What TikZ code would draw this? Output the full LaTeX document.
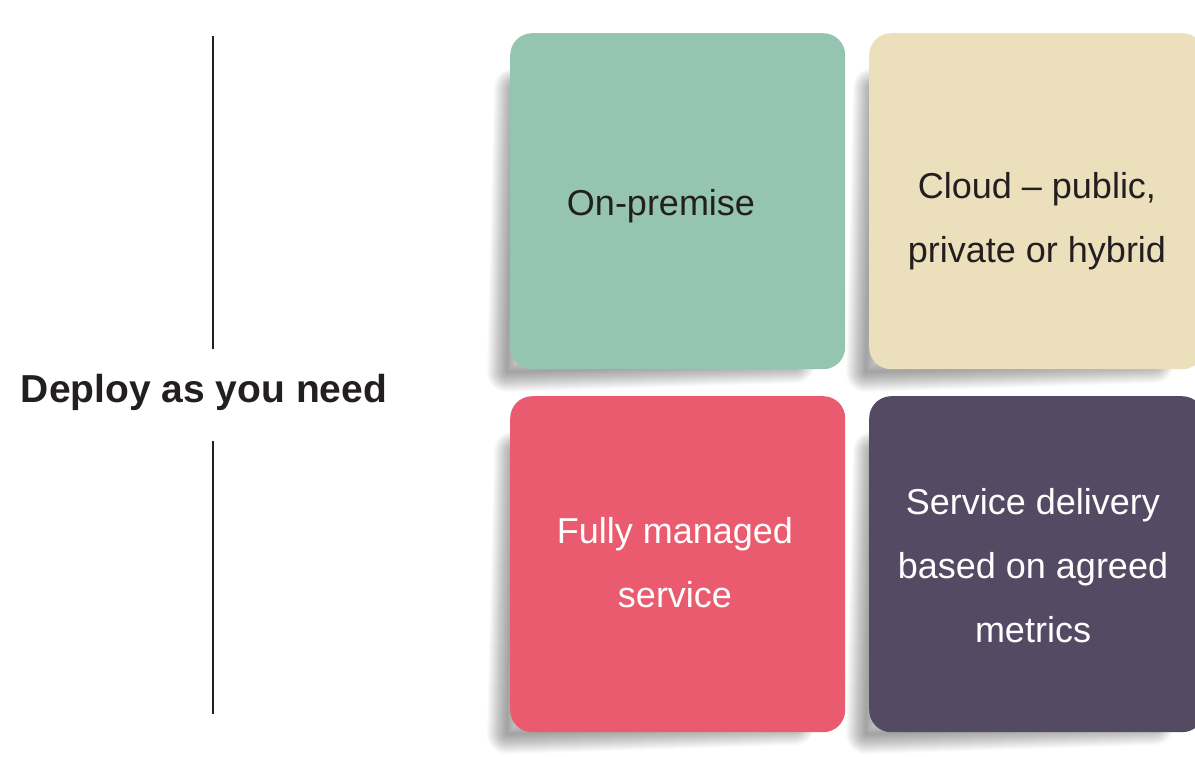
\documentclass[tikz,border=0pt]{standalone}
\usepackage{fontspec}
\setmainfont{Liberation Sans}
\definecolor{cgreen}{HTML}{95C4B1}
\definecolor{ctan}{HTML}{ECDFBC}
\definecolor{cred}{HTML}{EA5B70}
\definecolor{cpurple}{HTML}{544A64}
\definecolor{cdark}{HTML}{231F20}
\tikzset{
  tile/.style={rounded corners=22pt, draw=none, minimum width=335pt, minimum height=336pt, inner sep=0pt, anchor=north west},
  lbl/.style={align=center, inner sep=0pt, font=\fontsize{36pt}{64pt}\selectfont},
  rule/.style={line width=2.6pt, draw=cdark},
}
\newcommand{\softshadow}[4]{%
  % #1=L #2=T #3=R #4=B
  \foreach \w in {40,38,...,2}{%
    \draw[line width=\w pt, line join=round, draw=black, draw opacity=0.021]
      (#1+4,#2+55) -- (#1-3,#4+3) -- (#3-50,#4-6) -- (#3-50,#2+55) -- cycle;
  }%
}
\begin{document}
\begin{tikzpicture}[x=1pt,y=-1pt]
\useasboundingbox (0,0) rectangle (1195,757);
\clip (0,0) rectangle (1195,757);
\fill[white] (0,0) rectangle (1195,757);
% shadows
\softshadow{510}{33}{845}{369}
\softshadow{869}{33}{1204}{369}
\softshadow{510}{396}{845}{731}
\softshadow{869}{396}{1204}{731}
% tiles
\node[tile, fill=cgreen] (t1) at (510,33) {};
\node[tile, fill=ctan] (t2) at (869,33) {};
\node[tile, fill=cred] (t3) at (510,396) {};
\node[tile, fill=cpurple] (t4) at (869,396) {};
% labels
\node[lbl, text=cdark] (l1) at (661,206) {On-premise};
\node[lbl, text=cdark] (l2) at (1037,221) {Cloud -- public,\\private or hybrid};
\node[lbl, text=white] (l3) at (675,563) {Fully managed\\service};
\node[lbl, text=white] (l4) at (1033,566) {Service delivery\\based on agreed\\metrics};
% title and rules
\node[font=\bfseries\fontsize{39pt}{44pt}\selectfont, text=cdark, inner sep=0pt] (title) at (204,392) {Deploy as you need};
\coordinate (r1a) at (213,36);
\coordinate (r1b) at (213,349);
\coordinate (r2a) at (213,441);
\coordinate (r2b) at (213,714);
\draw[rule] (r1a) -- (r1b);
\draw[rule] (r2a) -- (r2b);
\end{tikzpicture}
\end{document}
